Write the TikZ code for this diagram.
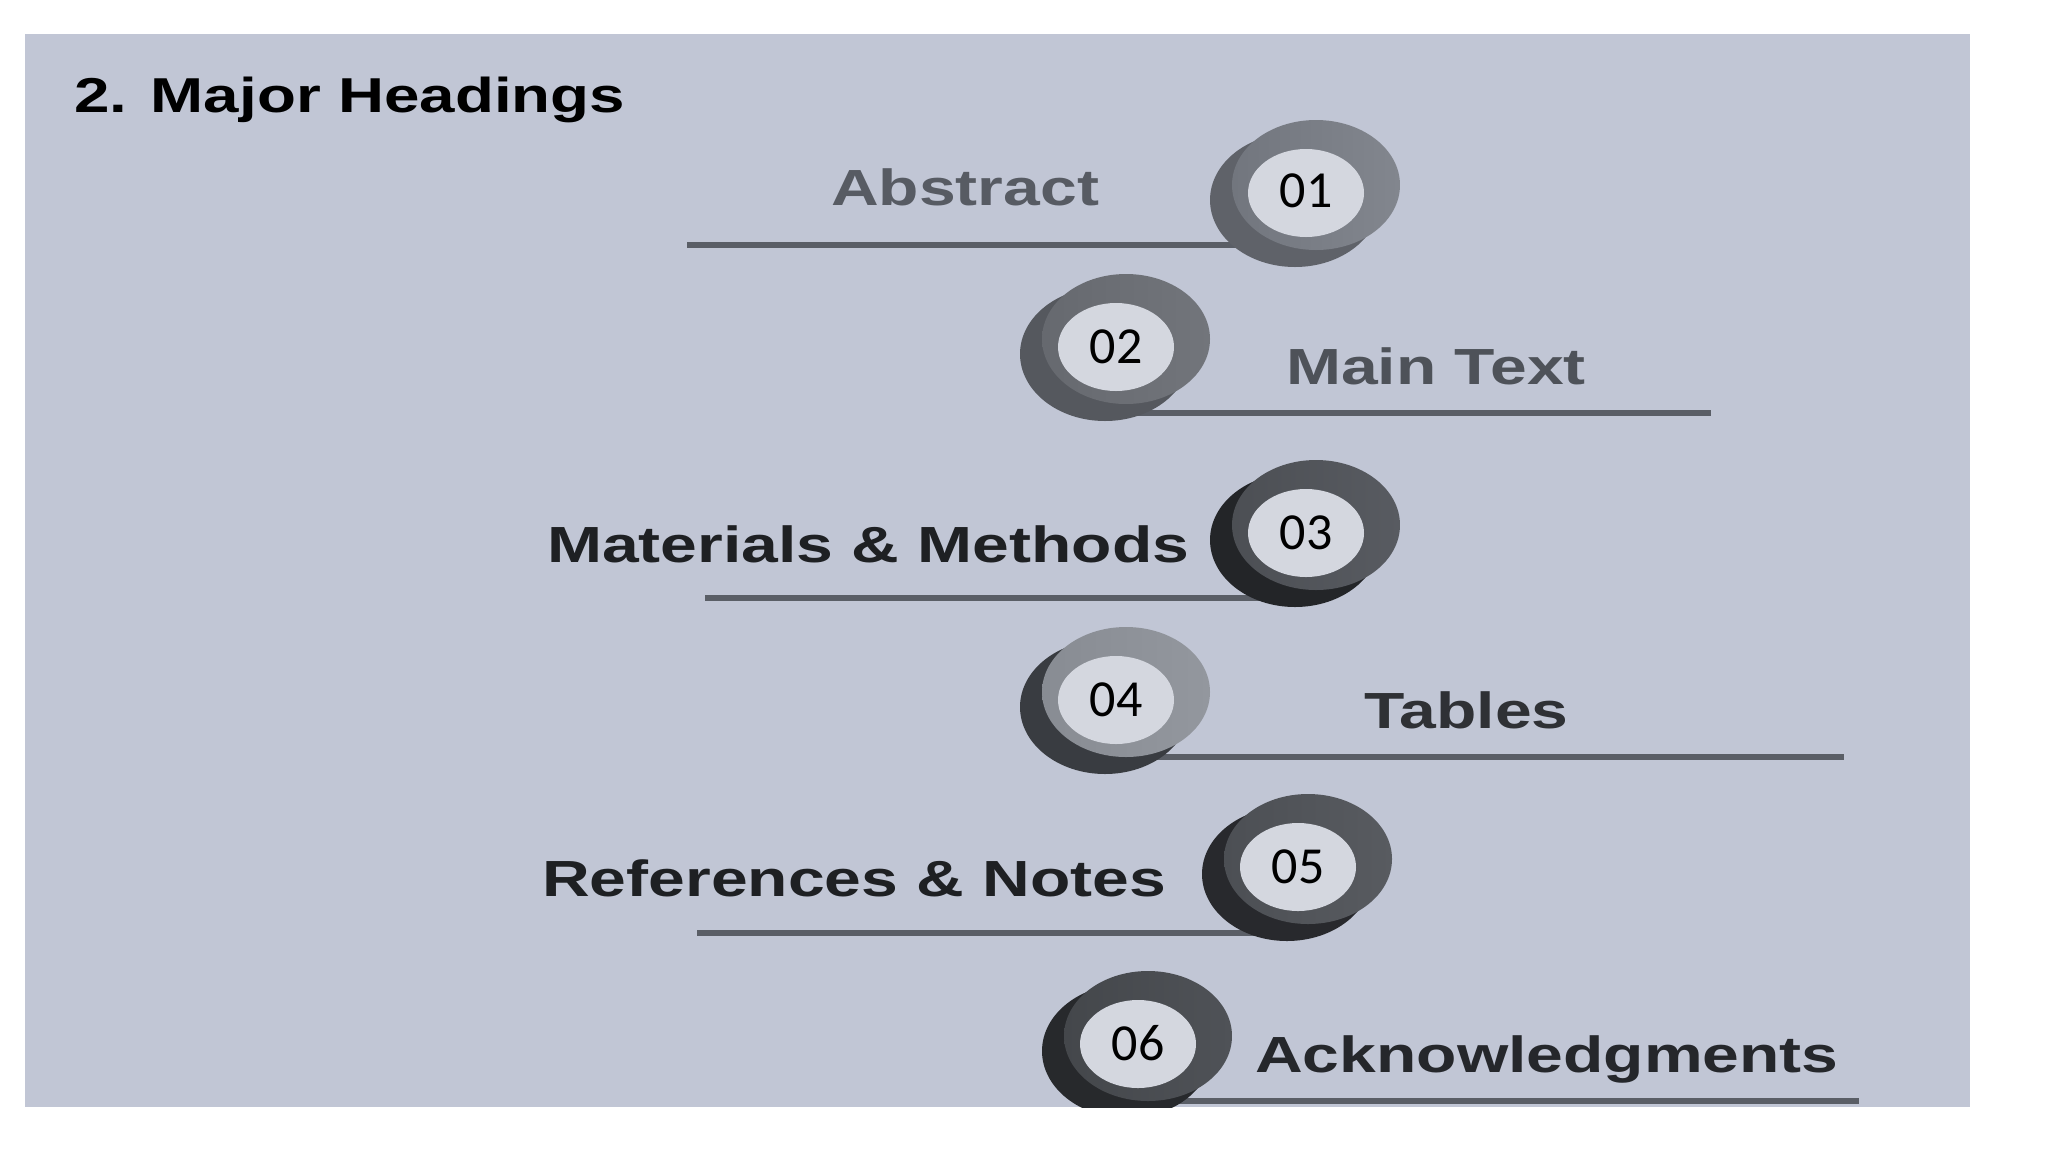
\documentclass[tikz,border=0pt]{standalone}
\usepackage{fontspec}
\setmainfont{Liberation Sans}
\newfontfamily\labelfont[FakeStretch=1.3]{Liberation Sans}
\newfontfamily\digitfont{Carlito}
\usetikzlibrary{shapes.geometric}
\definecolor{panel}{HTML}{C1C6D5}
\definecolor{innercol}{HTML}{D4D7DF}
\definecolor{barcol}{HTML}{5A5E66}
\definecolor{sA}{HTML}{5F6269}\definecolor{fAl}{HTML}{72767E}\definecolor{fAr}{HTML}{82868E}
\definecolor{sB}{HTML}{55585E}\definecolor{fBl}{HTML}{66696F}\definecolor{fBr}{HTML}{72757B}
\definecolor{sC}{HTML}{232528}\definecolor{fCl}{HTML}{4C4F54}\definecolor{fCr}{HTML}{585B61}
\definecolor{sD}{HTML}{393C41}\definecolor{fDl}{HTML}{888C93}\definecolor{fDr}{HTML}{93979E}
\definecolor{sE}{HTML}{28292D}\definecolor{fEl}{HTML}{4C4F54}\definecolor{fEr}{HTML}{585B60}
\definecolor{sF}{HTML}{27292C}\definecolor{fFl}{HTML}{44474B}\definecolor{fFr}{HTML}{4F5257}
\definecolor{tA}{HTML}{575B63}
\definecolor{tB}{HTML}{4E5259}
\definecolor{tC}{HTML}{1E2023}
\definecolor{tD}{HTML}{2F3135}
\definecolor{tE}{HTML}{1E2023}
\definecolor{tF}{HTML}{25272B}
\tikzset{
  bar/.style={draw=barcol, line width=5.5pt},
  numdisc/.style={ellipse, minimum width=116pt, minimum height=88pt, inner sep=0pt,
    fill=innercol, text=black, font=\digitfont\fontsize{52}{52}\selectfont},
  lbl/.style={anchor=base west, inner sep=0pt, font=\labelfont\bfseries\fontsize{50.8}{52}\selectfont},
  titlestyle/.style={anchor=base west, inner sep=0pt, font=\labelfont\bfseries\fontsize{49}{50}\selectfont, text=black}
}
% #1,#2 inner centre; #3 shadow colour; #4,#5 front shading colours
\newcommand\drawcoin[5]{%
  \fill[#3] ({#1-11},{#2+7}) ellipse [x radius=85pt, y radius=67pt];
  \shade[left color=#4, right color=#5] ({#1+10},{#2-8}) ellipse [x radius=84pt, y radius=65pt];
}
\begin{document}
\begin{tikzpicture}[x=1pt,y=-1pt]
\useasboundingbox (0,0) rectangle (2048,1152);
\fill[white] (0,0) rectangle (2048,1152);
\fill[panel] (25,34) rectangle (1970,1107);
\node[titlestyle] (title) at (74,112) {2. Major Headings};
\begin{scope}
\clip (25,34) rectangle (1970,1107);
% underline bars
\coordinate (l1s) at (687,245);  \coordinate (l1e) at (1290,245);
\coordinate (l2s) at (1120,413); \coordinate (l2e) at (1711,413);
\coordinate (l3s) at (705,598);  \coordinate (l3e) at (1290,598);
\coordinate (l4s) at (1120,757); \coordinate (l4e) at (1844,757);
\coordinate (l5s) at (697,933);  \coordinate (l5e) at (1280,933);
\coordinate (l6s) at (1140,1101);\coordinate (l6e) at (1859,1101);
\draw[bar] (l1s) -- (l1e);
\draw[bar] (l2s) -- (l2e);
\draw[bar] (l3s) -- (l3e);
\draw[bar] (l4s) -- (l4e);
\draw[bar] (l5s) -- (l5e);
\draw[bar] (l6s) -- (l6e);
% coins
\drawcoin{1306}{193}{sA}{fAl}{fAr}
\node[numdisc] (c1) at (1306,193) {\raisebox{5pt}{01}};
\drawcoin{1116}{347}{sB}{fBl}{fBr}
\node[numdisc] (c2) at (1116,347) {02};
\drawcoin{1306}{533}{sC}{fCl}{fCr}
\node[numdisc] (c3) at (1306,533) {03};
\drawcoin{1116}{700}{sD}{fDl}{fDr}
\node[numdisc] (c4) at (1116,700) {04};
\drawcoin{1298}{867}{sE}{fEl}{fEr}
\node[numdisc] (c5) at (1298,867) {\raisebox{1pt}{05}};
\drawcoin{1138}{1044}{sF}{fFl}{fFr}
\node[numdisc] (c6) at (1138,1044) {\raisebox{2pt}{06}};
% labels
\node[lbl, text=tA] (t1) at (831,205) {Abstract};
\node[lbl, text=tB] (t2) at (1286,384) {Main Text};
\node[lbl, text=tC] (t3) at (547,562) {Materials \& Methods};
\node[lbl, text=tD] (t4) at (1364,728) {Tables};
\node[lbl, text=tE] (t5) at (542,896) {References \& Notes};
\node[lbl, text=tF] (t6) at (1255,1072) {Acknowledgments};
\end{scope}
\end{tikzpicture}
\end{document}
